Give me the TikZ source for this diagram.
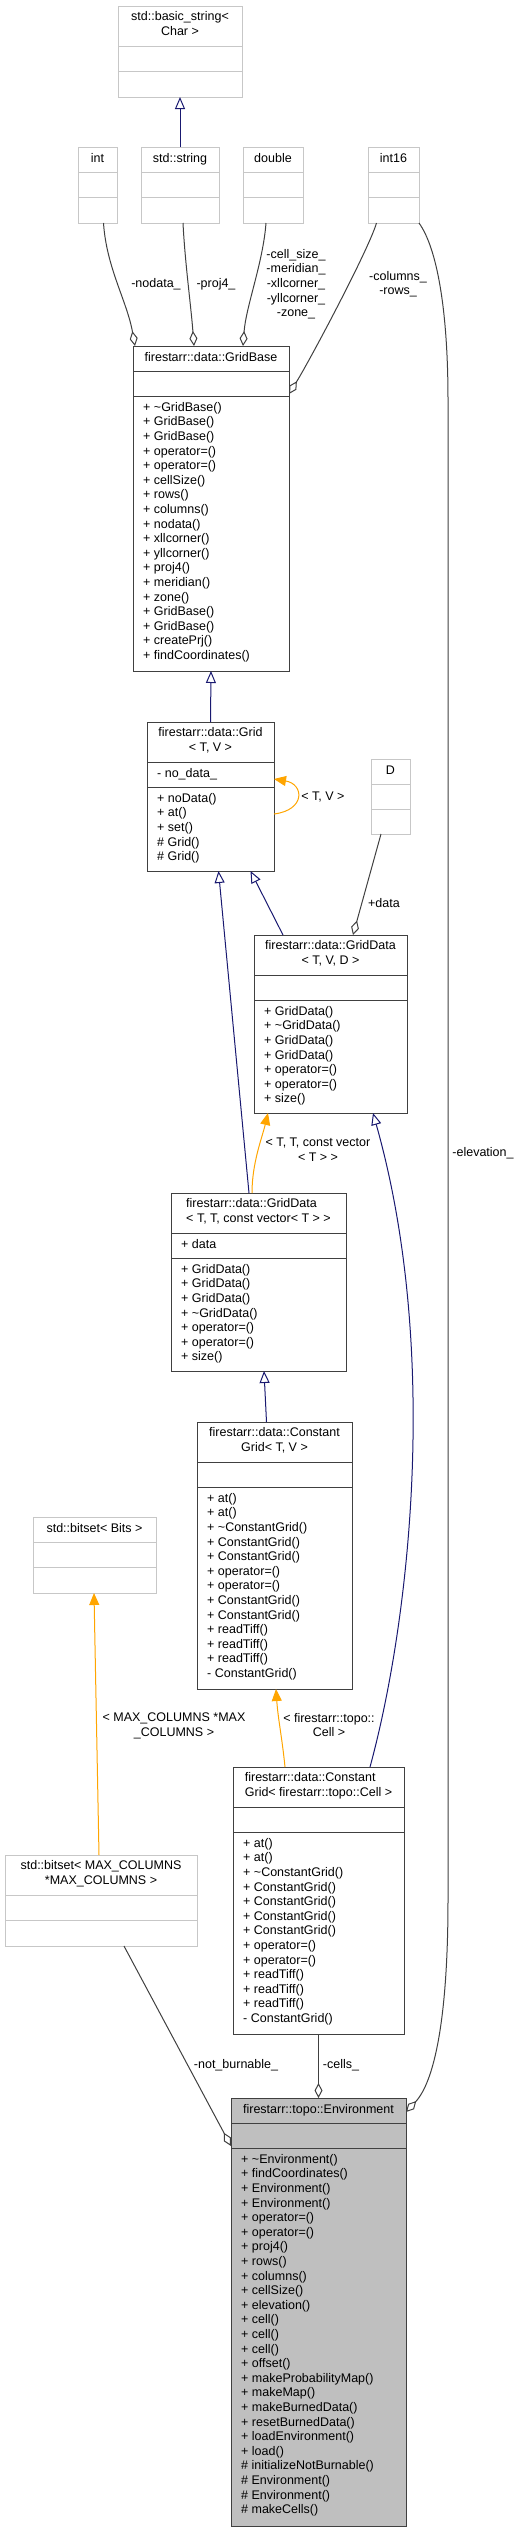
\documentclass[tikz,border=0pt]{standalone}
\usepackage{fontspec}
\setmainfont{Liberation Sans}
\usetikzlibrary{arrows.meta}

\definecolor{InheritBlue}{RGB}{25,25,112}
\definecolor{TmplOrange}{RGB}{255,165,0}
\definecolor{EdgeGray}{RGB}{64,64,64}

% class box: name, NW corner, width, height, header height, style, header align, header, members
\newcommand{\umlclass}[9]{%
  \node[#6, minimum width=#3, minimum height=#4, anchor=north west] (#1) at (#2) {};
  \draw[#6] ([yshift=-#5]#1.north west) -- ([yshift=-#5]#1.north east);
  \draw[#6] ([yshift=-#5-25.5]#1.north west) -- ([yshift=-#5-25.5]#1.north east);
  \node[head, align=#7] (#1-head) at ([yshift=-5.7]#1.north) {#8};
  \node[ops] (#1-ops) at ([xshift=10, yshift=-#5-31]#1.north west) {#9};
}

\begin{document}
\begin{tikzpicture}[x=1pt, y=-1pt]
    \tikzset{
        box/.style={draw=EdgeGray, line width=1pt, fill=white, outer sep=0pt, inner sep=0pt},
        extbox/.style={box, draw=black!22},
        mainbox/.style={box, fill=black!25},
        txt/.style={font=\fontsize{12.5}{14.6}\selectfont, inner sep=0pt,
            execute at begin node=\rule{0pt}{10pt}},
        head/.style={txt, anchor=north},
        ops/.style={txt, anchor=north west, align=left},
        lbl/.style={txt, anchor=north, align=center},
        inherit/.style={draw=InheritBlue, line width=1pt,
            -{Triangle[open, length=12pt, width=10pt]}},
        tmpl/.style={draw=TmplOrange, line width=1pt,
            -{Triangle[length=12pt, width=10pt, fill=TmplOrange]}},
        aggr/.style={draw=EdgeGray, line width=1pt,
            -{Diamond[open, length=15pt, width=8pt]}}
    }
    \useasboundingbox (0,0) rectangle (520,2532);

    % external types
    \umlclass{bstr}{118,6}{124}{91}{40}{extbox}{center}{std::basic\_string<\\Char >}{}
    \umlclass{int}{78,147}{39}{76}{25}{extbox}{center}{int}{}
    \umlclass{strs}{141,147}{78}{76}{25}{extbox}{center}{std::string}{}
    \umlclass{dbl}{243,147}{60}{76}{25}{extbox}{center}{double}{}
    \umlclass{int16}{368,147}{51}{76}{25}{extbox}{center}{int16}{}
    \umlclass{dd}{371,759}{39}{75}{25}{extbox}{center}{D}{}
    \umlclass{bits}{33,1517}{123}{76}{25}{extbox}{center}{std::bitset< Bits >}{}
    \umlclass{bitsmax}{5,1855}{192}{91}{40}{extbox}{center}{std::bitset< MAX\_COLUMNS\\*MAX\_COLUMNS >}{}

    % grid classes
    \umlclass{gridbase}{133,346}{156}{325}{25}{box}{center}{firestarr::data::GridBase}
        {+ \textasciitilde GridBase()\\+ GridBase()\\+ GridBase()\\+ operator=()\\+ operator=()\\
         + cellSize()\\+ rows()\\+ columns()\\+ nodata()\\+ xllcorner()\\+ yllcorner()\\
         + proj4()\\+ meridian()\\+ zone()\\+ GridBase()\\+ GridBase()\\+ createPrj()\\
         + findCoordinates()}
    \umlclass{grid}{147,722}{127}{149}{40}{box}{center}{firestarr::data::Grid\\< T, V >}
        {+ noData()\\+ at()\\+ set()\\\# Grid()\\\# Grid()}
    \node[ops] (grid-attr) at ([xshift=10, yshift=-45.5]grid.north west) {- no\_data\_};
    \umlclass{gdata}{254,935}{153}{178}{40}{box}{center}{firestarr::data::GridData\\< T, V, D >}
        {+ GridData()\\+ \textasciitilde GridData()\\+ GridData()\\+ GridData()\\
         + operator=()\\+ operator=()\\+ size()}
    \umlclass{gdvec}{171,1193}{175}{178}{40}{box}{left}{firestarr::data::GridData\\< T, T, const vector< T > >}
        {+ GridData()\\+ GridData()\\+ GridData()\\+ \textasciitilde GridData()\\
         + operator=()\\+ operator=()\\+ size()}
    \node[ops] (gdvec-attr) at ([xshift=10, yshift=-45.5]gdvec.north west) {+ data};
    \umlclass{cgrid}{197,1422}{155}{267}{40}{box}{center}{firestarr::data::Constant\\Grid< T, V >}
        {+ at()\\+ at()\\+ \textasciitilde ConstantGrid()\\+ ConstantGrid()\\+ ConstantGrid()\\
         + operator=()\\+ operator=()\\+ ConstantGrid()\\+ ConstantGrid()\\
         + readTiff()\\+ readTiff()\\+ readTiff()\\- ConstantGrid()}
    \umlclass{cgcell}{233,1767}{171}{267}{40}{box}{left}{firestarr::data::Constant\\Grid< firestarr::topo::Cell >}
        {+ at()\\+ at()\\+ \textasciitilde ConstantGrid()\\+ ConstantGrid()\\+ ConstantGrid()\\
         + ConstantGrid()\\+ ConstantGrid()\\+ operator=()\\+ operator=()\\
         + readTiff()\\+ readTiff()\\+ readTiff()\\- ConstantGrid()}
    \umlclass{env}{231,2098}{175}{428}{25}{mainbox}{center}{firestarr::topo::Environment}
        {+ \textasciitilde Environment()\\+ findCoordinates()\\+ Environment()\\+ Environment()\\
         + operator=()\\+ operator=()\\+ proj4()\\+ rows()\\+ columns()\\+ cellSize()\\
         + elevation()\\+ cell()\\+ cell()\\+ cell()\\+ offset()\\+ makeProbabilityMap()\\
         + makeMap()\\+ makeBurnedData()\\+ resetBurnedData()\\+ loadEnvironment()\\
         + load()\\\# initializeNotBurnable()\\\# Environment()\\\# Environment()\\
         \# makeCells()}

    % inheritance
    \draw[inherit] (strs.north) -- (bstr.south);
    \draw[inherit] (grid.north) -- (gridbase.south);
    \draw[inherit] ([xshift=29]gdata.north west) -- ([xshift=40]grid.south);
    \draw[inherit] ([xshift=78]gdvec.north west) -- ([xshift=8]grid.south);
    \draw[inherit] ([xshift=69.5]cgrid.north west) -- ([xshift=5.5]gdvec.south);
    \draw[inherit] ([xshift=137]cgcell.north west)
        .. controls +(40,-147) and +(67,237) .. ([xshift=119]gdata.south west);

    % template instances
    \draw[tmpl] ([yshift=-92]grid.north east)
        .. controls +(32,-4) and +(30,5) .. ([yshift=-57]grid.north east);
    \draw[tmpl] ([xshift=81]gdvec.north west)
        .. controls +(0,-30) and +(-6,25) .. ([xshift=14]gdata.south west);
    \draw[tmpl] ([xshift=52]cgcell.north west)
        .. controls +(-3,-30) and +(2,30) .. ([xshift=79]cgrid.south west);
    \draw[tmpl] ([xshift=94]bitsmax.north west) -- ([xshift=61]bits.south west);

    % members
    \draw[aggr] ([xshift=6]int.south)
        .. controls +(3,45) and +(-8,-45) .. ([xshift=2]gridbase.north west);
    \draw[aggr] ([xshift=3]strs.south)
        .. controls +(2,40) and +(-3,-40) .. ([xshift=61]gridbase.north west);
    \draw[aggr] ([xshift=-7]dbl.south)
        .. controls +(-3,40) and +(3,-40) .. ([xshift=110]gridbase.north west);
    \draw[aggr] ([xshift=-17]int16.south)
        .. controls +(-8,27) and +(21,-34) .. ([yshift=-48]gridbase.north east);
    \draw[aggr] (int16.south east) .. controls +(18,25) and +(0,-90) .. (448,400)
        -- (448,1900) .. controls +(0,120) and +(28,-30) .. ([yshift=-14]env.north east);
    \draw[aggr] ([xshift=-9.5]dd.south) -- ([xshift=99]gdata.north west);
    \draw[aggr] ([xshift=119]bitsmax.south west) -- ([yshift=-48]env.north west);
    \draw[aggr] (cgcell.south) -- (env.north);

    % labels
    \node[lbl] (l-nodata) at (156,277) {-nodata\_};
    \node[lbl] (l-proj) at (216,277) {-proj4\_};
    \node[lbl] (l-dbl) at (296,249) {-cell\_size\_\\-meridian\_\\-xllcorner\_\\-yllcorner\_\\-zone\_};
    \node[lbl] (l-dims) at (398,271) {-columns\_\\-rows\_};
    \node[lbl] (l-elev) at (483,1146) {-elevation\_};
    \node[lbl] (l-tv) at (323,790) {< T, V >};
    \node[lbl] (l-data) at (384,897) {+data};
    \node[lbl] (l-vec) at (318,1138) {< T, T, const vector\\< T > >};
    \node[lbl] (l-max) at (174,1713) {< MAX\_COLUMNS *MAX\\\_COLUMNS >};
    \node[lbl] (l-cell) at (329,1713) {< firestarr::topo::\\Cell >};
    \node[lbl] (l-burn) at (236,2058) {-not\_burnable\_};
    \node[lbl] (l-cells) at (341,2058) {-cells\_};
\end{tikzpicture}
\end{document}
